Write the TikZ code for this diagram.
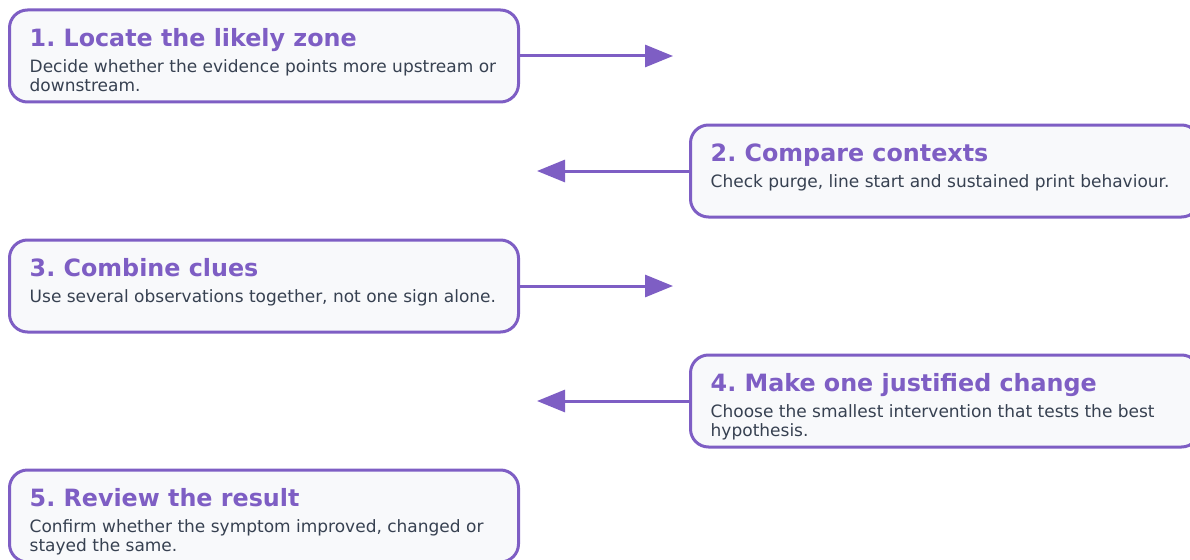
\documentclass[tikz,border=0pt]{standalone}
\usepackage{fontspec}
\setmainfont{DejaVu Sans}
\usetikzlibrary{arrows.meta,calc}
\frenchspacing
\definecolor{purp}{HTML}{7E5EC4}
\definecolor{bodytxt}{HTML}{374151}
\definecolor{boxfill}{HTML}{F8F9FB}
\newcommand{\desclines}[1]{\begin{tabular}[t]{@{}l@{}}#1\end{tabular}}
\tikzset{
  stepbox/.style={draw=purp, line width=3pt, fill=boxfill, rounded corners=18pt,
    minimum width=509pt, minimum height=92pt, anchor=north west, inner sep=0pt, outer sep=0pt},
  ttl/.style={anchor=base west, inner sep=0pt, text=purp, font=\fontsize{23.8}{27}\selectfont\bfseries},
  dsc/.style={anchor=base west, inner sep=0pt, text=bodytxt, font=\fontsize{17}{19}\selectfont},
  arr/.style={draw=purp, line width=3pt, -{Triangle[length=28pt,width=22pt]}}
}
\begin{document}
\begin{tikzpicture}[x=1pt,y=-1pt]
\useasboundingbox (0,0) rectangle (1190,559);
% boxes
\node[stepbox] (b1) at (9.5,10) {};
\node[stepbox] (b2) at (690.5,125) {};
\node[stepbox] (b3) at (9.5,240) {};
\node[stepbox] (b4) at (690.5,355) {};
\node[stepbox] (b5) at (9.5,470) {};
% texts
\node[ttl] (t1) at ($(b1.north west)+(20,36.5)$) {1. Locate the likely zone};
\node[dsc] (d1) at ($(b1.north west)+(20,62.5)$) {\desclines{Decide whether the evidence points more upstream or\\downstream.}};
\node[ttl] (t2) at ($(b2.north west)+(20,36.5)$) {2. Compare contexts};
\node[dsc] (d2) at ($(b2.north west)+(20,62.5)$) {\desclines{Check purge, line start and sustained print behaviour.}};
\node[ttl] (t3) at ($(b3.north west)+(20,36.5)$) {3. Combine clues};
\node[dsc] (d3) at ($(b3.north west)+(20,62.5)$) {\desclines{Use several observations together, not one sign alone.}};
\node[ttl] (t4) at ($(b4.north west)+(20,36.5)$) {4. Make one justified change};
\node[dsc] (d4) at ($(b4.north west)+(20,62.5)$) {\desclines{Choose the smallest intervention that tests the best\\hypothesis.}};
\node[ttl] (t5) at ($(b5.north west)+(20,36.5)$) {5. Review the result};
\node[dsc] (d5) at ($(b5.north west)+(20,62.5)$) {\desclines{Confirm whether the symptom improved, changed or\\stayed the same.}};
% arrow ends
\coordinate (e1) at (673,56);
\coordinate (e2) at (537,171);
\coordinate (e3) at (673,286);
\coordinate (e4) at (537,401);
\draw[arr] (b1.east) -- (e1);
\draw[arr] (b2.west) -- (e2);
\draw[arr] (b3.east) -- (e3);
\draw[arr] (b4.west) -- (e4);
\end{tikzpicture}
\end{document}
